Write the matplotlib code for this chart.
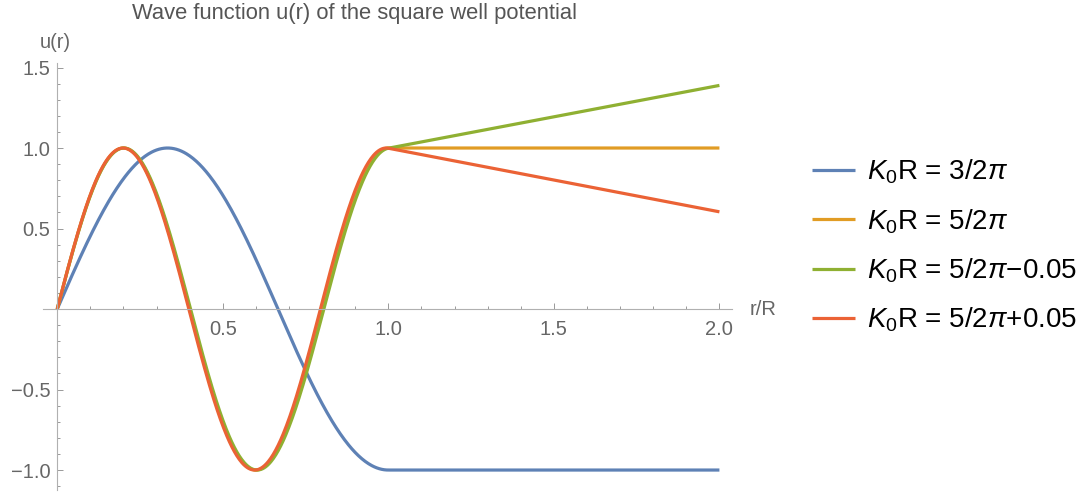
import numpy as np
import matplotlib.pyplot as plt
from matplotlib.ticker import MultipleLocator, FixedLocator, FuncFormatter

plt.rcParams['font.family'] = ['Liberation Sans', 'DejaVu Sans']
plt.rcParams['mathtext.fontset'] = 'custom'
plt.rcParams['mathtext.it'] = 'Liberation Sans:italic'
plt.rcParams['mathtext.rm'] = 'Liberation Sans'

# K0*R for each curve (in units of the well radius R)
k0r_values = [1.5 * np.pi, 2.5 * np.pi, 2.5 * np.pi - 0.05, 2.5 * np.pi + 0.05]
labels = [r"$K_0$R = 3/2$\pi$", r"$K_0$R = 5/2$\pi$",
          r"$K_0$R = 5/2$\pi$−0.05", r"$K_0$R = 5/2$\pi$+0.05"]
colors = ['#5E81B5', '#E19C24', '#8FB032', '#EB6235']
x_ticks = [0.5, 1.0, 1.5, 2.0]
y_ticks = [-1.0, -0.5, 0.5, 1.0, 1.5]

r = np.linspace(0, 2, 801)


def u(k, r):
    # inside the well: sin(k r); outside (E -> 0): straight line matching slope at r = 1
    inside = np.sin(k * r)
    outside = np.sin(k) + k * np.cos(k) * (r - 1)
    return np.where(r <= 1, inside, outside)


fig = plt.figure(figsize=(10.9, 4.95), dpi=100)
ax = fig.add_axes([43 / 1090, 5 / 495, 689 / 1090, 427 / 495])

for k, lab, c in zip(k0r_values, labels, colors):
    ax.plot(r, u(k, r), color=c, lw=2.3, label=lab, solid_capstyle='butt')

ax.set_xlim(-0.043, 2.038)
ax.set_ylim(-1.124, 1.528)

axis_gray = '#b0b0b0'
text_gray = '#666666'
for side in ['top', 'right']:
    ax.spines[side].set_visible(False)
ax.spines['left'].set_position(('data', 0))
ax.spines['bottom'].set_position(('data', 0))
ax.spines['left'].set_color(axis_gray)
ax.spines['bottom'].set_color(axis_gray)
ax.spines['left'].set_linewidth(0.8)
ax.spines['bottom'].set_linewidth(0.8)
ax.spines['left'].set_bounds(-1.124, 1.528)

fmt = FuncFormatter(lambda v, p: f"{v:.1f}".replace('-', '\u2212'))
ax.xaxis.set_major_locator(FixedLocator(x_ticks))
ax.yaxis.set_major_locator(FixedLocator(y_ticks))
ax.xaxis.set_minor_locator(MultipleLocator(0.1))
ax.yaxis.set_minor_locator(MultipleLocator(0.1))
ax.xaxis.set_major_formatter(fmt)
ax.yaxis.set_major_formatter(fmt)
ax.tick_params(which='both', direction='in', color='#999999', width=0.7,
               labelcolor=text_gray, labelsize=14.5)
ax.tick_params(which='major', length=4)
ax.tick_params(which='minor', length=2.5)
ax.tick_params(axis='x', pad=8)
ax.tick_params(axis='y', pad=5)

ax.text(2.09, 0, 'r/R', fontsize=14.5, color=text_gray, va='center', ha='left')
fig.text(55 / 1090, 1 - 43 / 495, 'u(r)', fontsize=14.5, color=text_gray,
         ha='center', va='center')
fig.text(355 / 1090, 1 - 14 / 495, 'Wave function u(r) of the square well potential',
         fontsize=15.8, color='#555555', ha='center', va='center')

fig.legend(loc='center left', bbox_to_anchor=(798 / 1090, 1 - 246 / 495),
           frameon=False, fontsize=20, handlelength=1.55, handletextpad=0.45,
           labelspacing=0.75, borderpad=0)

fig.savefig('out.png', dpi=100)
